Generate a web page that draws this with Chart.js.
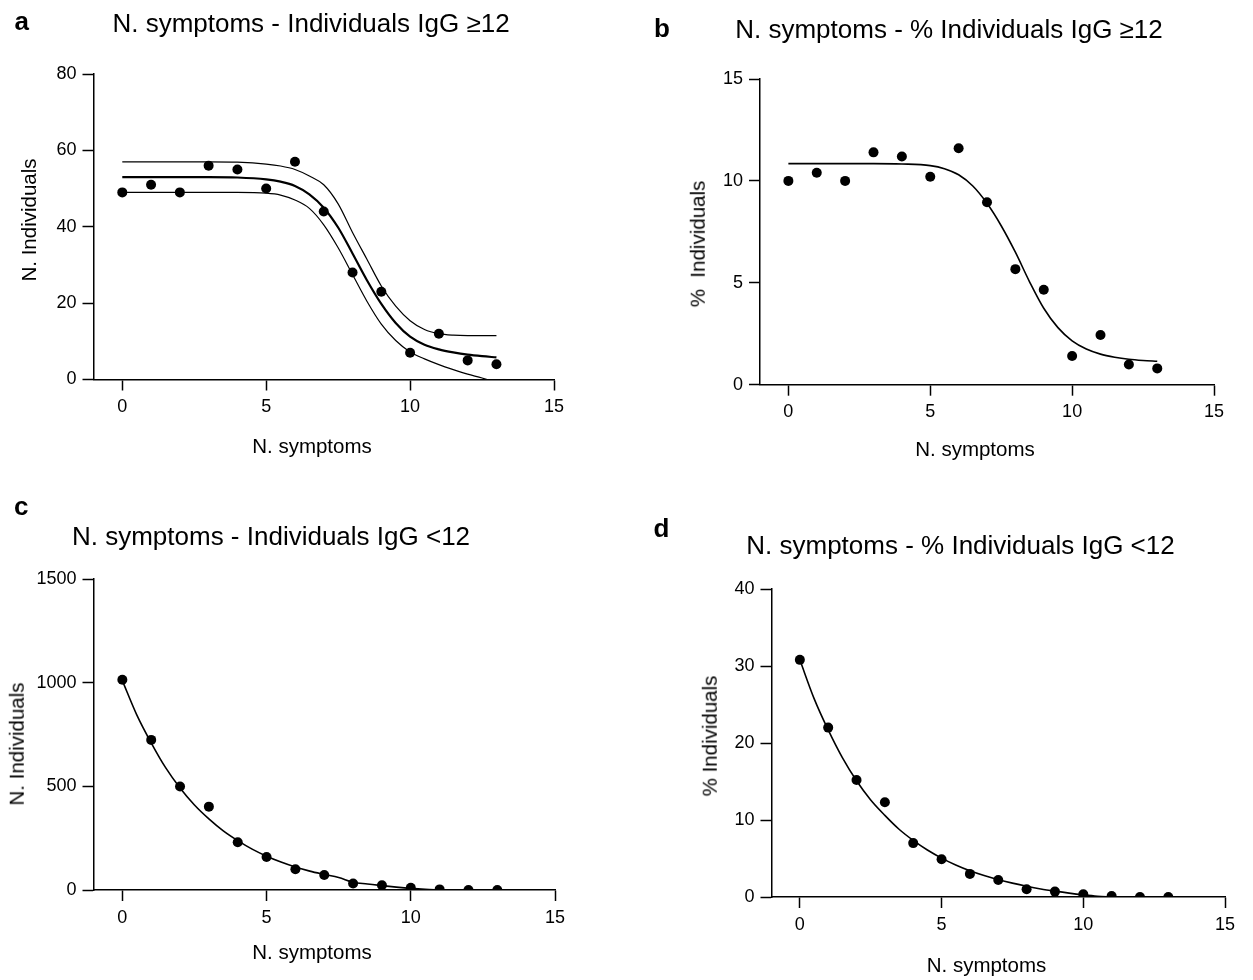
<!DOCTYPE html>
<html>
<head>
<meta charset="utf-8">
<script src="https://cdn.jsdelivr.net/npm/chart.js@4.4.1/dist/chart.umd.min.js"></script>
<style>
body { margin: 0; background: #fff; }
#fig { position: relative; width: 1253px; height: 980px; overflow: hidden;
       font-family: "Liberation Sans", Arial, Helvetica, sans-serif; color: #000; }
#fig canvas { position: absolute; }
.t { position: absolute; white-space: pre; line-height: 1; transform: translate(-50%, -50%); }
.ttl { font-size: 26px; }
.ax { font-size: 20.5px; }
.rot { transform: translate(-50%, -50%) rotate(-90deg); }
.lbl { position: absolute; font-weight: bold; font-size: 26px; line-height: 1; }
</style>
</head>
<body>
<div id="fig">
  <canvas id="chartA" width="620" height="490" style="left:0;top:0"></canvas>
  <canvas id="chartB" width="623" height="490" style="left:630px;top:0"></canvas>
  <canvas id="chartC" width="620" height="490" style="left:0;top:490px"></canvas>
  <canvas id="chartD" width="623" height="490" style="left:630px;top:490px"></canvas>

  <div class="lbl" style="left:14.5px;top:8px">a</div>
  <div class="lbl" style="left:654px;top:15px">b</div>
  <div class="lbl" style="left:14px;top:492.5px">c</div>
  <div class="lbl" style="left:653.5px;top:515px">d</div>

  <div class="t ttl" style="left:311px;top:22.7px">N. symptoms - Individuals IgG ≥12</div>
  <div class="t ttl" style="left:949px;top:28.7px">N. symptoms - % Individuals IgG ≥12</div>
  <div class="t ttl" style="left:271px;top:535.7px">N. symptoms - Individuals IgG &lt;12</div>
  <div class="t ttl" style="left:960.5px;top:544.7px">N. symptoms - % Individuals IgG &lt;12</div>

  <div class="t ax" style="left:312px;top:445.7px">N. symptoms</div>
  <div class="t ax" style="left:975px;top:448.7px">N. symptoms</div>
  <div class="t ax" style="left:312px;top:951.7px">N. symptoms</div>
  <div class="t ax" style="left:986.5px;top:964.7px">N. symptoms</div>

  <div class="t ax rot" style="left:29px;top:220px">N. Individuals</div>
  <div class="t ax rot" style="left:697.6px;top:243.5px">%  Individuals</div>
  <div class="t ax rot" style="left:17px;top:744px">N. Individuals</div>
  <div class="t ax rot" style="left:710px;top:736px">% Individuals</div>
</div>

<script>
// observed points
const symptoms = [0, 1, 2, 3, 4, 5, 6, 7, 8, 9, 10, 11, 12, 13];
const individualsHigh = [49, 51, 49, 56, 55, 50, 57, 44, 28, 23, 7, 12, 5, 4];
const pctHigh = [10.0, 10.4, 10.0, 11.4, 11.2, 10.2, 11.6, 8.95, 5.67, 4.66, 1.41, 2.44, 0.99, 0.80];
const individualsLow = [1014, 724, 499, 402, 230, 159, 100, 72, 31, 23, 11, 3, 0, 0];
const pctLow = [30.8, 22.0, 15.2, 12.3, 7.0, 4.9, 3.0, 2.2, 1.0, 0.7, 0.35, 0.13, 0, 0];

// fitted curves
const sigmoidX = [0, 1, 2, 3, 4, 5, 5.5, 6, 6.5, 7, 7.5, 8, 8.5, 9, 9.5, 10, 10.5, 11, 11.5, 12, 12.5, 13];
const fitHighMid = [53, 53, 53, 53, 52.9, 52.4, 51.8, 50.7, 48.5, 45, 39.8, 33, 26, 19.8, 14.8, 11.2, 9.1, 7.9, 7.1, 6.5, 6.1, 5.8];
const fitHighUpper = [57, 57, 57, 57, 56.9, 56.4, 55.9, 55, 53.3, 51, 46, 38.5, 31.5, 24.5, 19.2, 15.4, 13.1, 12, 11.6, 11.5, 11.5, 11.5];
const fitHighLower = [49, 49, 49, 49, 49, 48.8, 48.3, 47, 44.8, 40.5, 34.5, 27.5, 20.5, 14.5, 10.2, 7.2, 5.4, 3.9, 2.6, 1.4, 0.4, -0.8];
const fitPctHigh = [10.85, 10.85, 10.85, 10.85, 10.83, 10.75, 10.6, 10.3, 9.75, 8.9, 7.8, 6.5, 5.05, 3.75, 2.8, 2.15, 1.75, 1.5, 1.35, 1.25, 1.19, 1.15];

const decayX = [0, 0.5, 1, 1.5, 2, 2.5, 3, 3.5, 4, 4.5, 5, 5.5, 6, 6.5, 7, 7.5, 8, 8.5, 9, 9.5, 10, 10.5, 11];
const fitLow = [1010, 845, 710, 590, 492, 410, 343, 285, 238, 197, 163, 135, 111, 91, 75, 60, 37, 29, 21, 14, 8, 3.5, 0.5];
const fitPctLow = [30.8, 25.8, 21.7, 18.1, 15.1, 12.6, 10.6, 8.8, 7.35, 6.1, 5.05, 4.15, 3.4, 2.78, 2.25, 1.8, 1.4, 1.05, 0.76, 0.5, 0.28, 0.1, 0];

const xTicks = [0, 5, 10, 15];
const FONT = '"Liberation Sans", Arial, Helvetica, sans-serif';
const X_AXIS_H = 40;

function pts(xs, ys) {
  return xs.map((x, i) => ({ x: x, y: ys[i] }));
}

function dots(ys) {
  return {
    data: pts(symptoms, ys), showLine: false,
    pointRadius: 5, pointBackgroundColor: '#000', pointBorderWidth: 0
  };
}

function curve(xs, ys, w) {
  return {
    data: pts(xs, ys), showLine: true, pointRadius: 0,
    borderColor: '#000', borderWidth: w, cubicInterpolationMode: 'monotone', clip: 0
  };
}

function panel(id, box, area, yTicks, datasets) {
  const axisLine = { display: true, color: '#000', width: 1.5 };
  const grid = { drawOnChartArea: false, drawTicks: true, tickLength: 11, tickWidth: 1.5, tickColor: '#000' };
  const tickFont = { family: FONT, size: 18 };
  return new Chart(document.getElementById(id), {
    type: 'scatter',
    data: { datasets: datasets },
    options: {
      responsive: false,
      animation: false,
      devicePixelRatio: 1,
      layout: {
        padding: {
          left: 0,
          top: area.t - box.top,
          right: box.left + box.w - area.r,
          bottom: box.top + box.h - area.b - X_AXIS_H
        }
      },
      plugins: { legend: { display: false }, tooltip: { enabled: false } },
      scales: {
        x: {
          type: 'linear', min: -1, max: 15,
          afterBuildTicks: s => { s.ticks = xTicks.map(v => ({ value: v })); },
          afterFit: s => { s.height = X_AXIS_H; },
          grid: grid, border: axisLine,
          ticks: { color: '#000', font: tickFont, padding: 6, maxRotation: 0, autoSkip: false,
                   callback: v => String(v) }
        },
        y: {
          type: 'linear', min: 0, max: yTicks[yTicks.length - 1],
          afterBuildTicks: s => { s.ticks = yTicks.map(v => ({ value: v })); },
          afterFit: s => { s.width = area.l - box.left; },
          grid: grid, border: axisLine,
          ticks: { color: '#000', font: tickFont, padding: 6, autoSkip: false,
                   callback: v => String(v) }
        }
      }
    }
  });
}

panel('chartA', { left: 0, top: 0, w: 620, h: 490 }, { l: 93.5, r: 554, t: 74, b: 379.5 },
  [0, 20, 40, 60, 80],
  [dots(individualsHigh),
   curve(sigmoidX, fitHighMid, 2.2),
   curve(sigmoidX, fitHighUpper, 1.2),
   curve(sigmoidX, fitHighLower, 1.2)]);

panel('chartB', { left: 630, top: 0, w: 623, h: 490 }, { l: 760, r: 1214, t: 79, b: 384.7 },
  [0, 5, 10, 15],
  [dots(pctHigh), curve(sigmoidX, fitPctHigh, 1.6)]);

panel('chartC', { left: 0, top: 490, w: 620, h: 490 }, { l: 93.5, r: 555, t: 579, b: 890 },
  [0, 500, 1000, 1500],
  [dots(individualsLow), curve(decayX, fitLow, 1.6)]);

panel('chartD', { left: 630, top: 490, w: 623, h: 490 }, { l: 771.5, r: 1225, t: 589, b: 897 },
  [0, 10, 20, 30, 40],
  [dots(pctLow), curve(decayX, fitPctLow, 1.6)]);
</script>
</body>
</html>
